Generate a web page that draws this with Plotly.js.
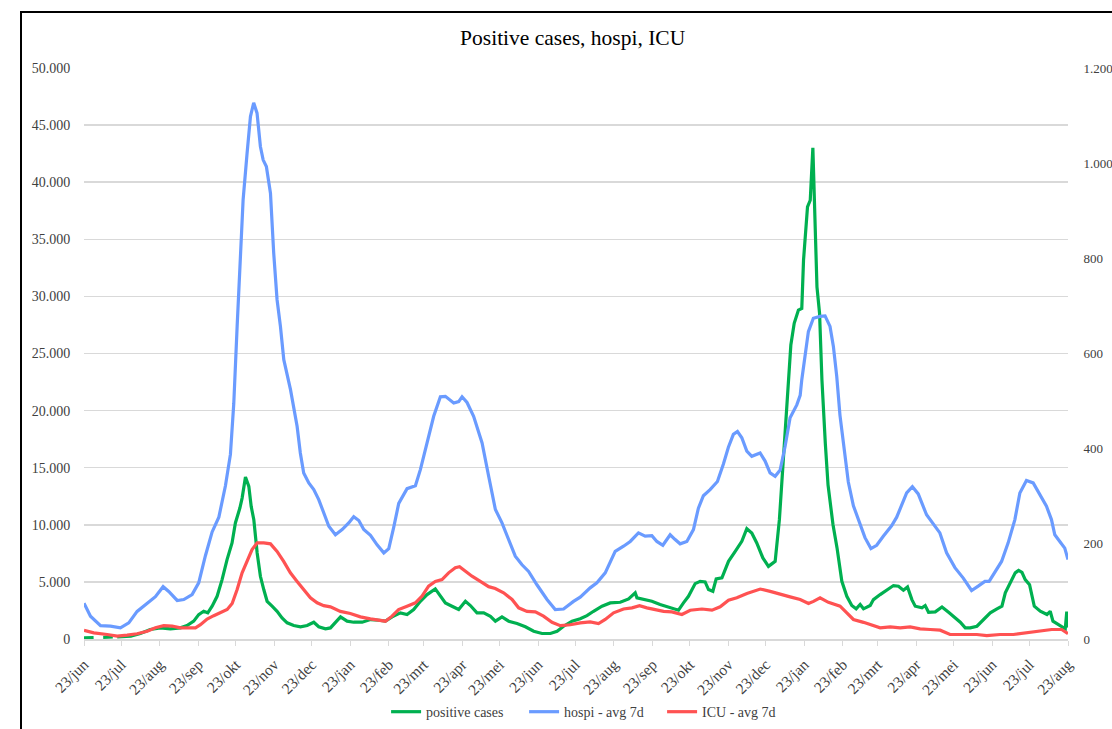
<!DOCTYPE html>
<html>
<head>
<meta charset="utf-8">
<script src="https://cdn.plot.ly/plotly-3.0.1.min.js"></script>
<style>
  html, body { margin: 0; padding: 0; background: #ffffff; }
  #chart { width: 1112px; height: 729px; position: relative; }
  #frame { position: absolute; left: 20px; top: 11px; width: 1200px; height: 800px;
           border-left: 2px solid #000; border-top: 2px solid #000; pointer-events: none; }
</style>
</head>
<body>
<div id="chart"></div>
<div id="frame"></div>
<script>
// ---- data (x = days since 2020-06-23) ----
const startDate = '2020-06-23';

const tickDates = ['2020-06-23','2020-07-23','2020-08-23','2020-09-23','2020-10-23','2020-11-23','2020-12-23',
  '2021-01-23','2021-02-23','2021-03-23','2021-04-23','2021-05-23','2021-06-23','2021-07-23','2021-08-23',
  '2021-09-23','2021-10-23','2021-11-23','2021-12-23','2022-01-23','2022-02-23','2022-03-23','2022-04-23',
  '2022-05-23','2022-06-23','2022-07-23','2022-08-23'];
const tickLabels = ['23/jun','23/jul','23/aug','23/sep','23/okt','23/nov','23/dec','23/jan','23/feb','23/mrt',
  '23/apr','23/mei','23/jun','23/jul','23/aug','23/sep','23/okt','23/nov','23/dec','23/jan','23/feb','23/mrt',
  '23/apr','23/mei','23/jun','23/jul','23/aug'];

// positive cases - first (dashed) stretch
const casesDashDays = [0, 7, 14, 21, 26.7];
const casesDash     = [90, 100, 110, 140, 190];

// positive cases (left axis)
const casesDays = [26.7,37.6,45.3,53.3,61.4,69.4,77.5,82.8,88.2,92.2,96.2,99.5,103,107,111,115,119,121.7,125.3,127.1,
  129.8,132.5,134.4,136.5,139.2,141.8,144.5,147.2,151.2,155.2,159.2,163.3,168.6,174,179.4,184.7,188.7,194.1,198.1,
  202.1,206.2,211.5,216.8,223.6,230.3,237,242.3,247.7,254.3,259.7,265,270.4,275.8,282.4,286.5,290.5,295.8,301.2,
  306.6,310.6,315.9,321.3,326.7,330.7,336,341.4,348.1,354.8,361.5,368.2,374.9,380.3,385.5,392.3,398.9,404.3,409.6,
  416.4,423,431.1,437.8,443.1,444.5,451.1,456.5,463.1,469.8,477.9,481.9,485.9,491.3,495.3,499.3,502,505.5,508.2,
  512.8,518.1,523.5,528.8,532.8,536.8,540.8,545.7,550.2,555.6,559,561.9,564.6,568.2,570.9,574.3,577,578.4,581.6,
  583.8,585.9,587.2,589.2,591.3,593.2,595.9,598.1,602.1,605.3,609.2,613.2,617.2,620.7,623.9,626.6,632,634.6,640,
  645.4,650.7,654.7,658.7,662,665.5,668.2,673.6,676.2,678.9,684.3,689.7,695,700.4,704.4,708.4,712.4,717.8,723.2,
  728.5,733.9,737.9,740.6,744.6,748.6,751.3,754,756.6,760.1,763.9,768.7,774.1,776.7,778.9,784.8,788.8,790,791];
const cases = [190,245,480,830,980,890,980,1180,1560,2140,2430,2290,2870,3740,5200,6950,8410,10160,11470,12340,
  14180,13360,11610,10450,7530,5490,4330,3300,2870,2430,1850,1420,1180,1070,1180,1470,1070,890,970,
  1470,1940,1560,1470,1470,1700,1640,1560,1940,2290,2140,2580,3300,3890,4390,3740,3160,2870,2580,
  3300,2930,2290,2290,1990,1560,1940,1560,1350,1070,680,480,480,680,1120,1560,1770,2050,2430,
  2870,3160,3220,3510,4040,3600,3450,3300,3020,2810,2520,3160,3740,4850,5050,5000,4330,4180,5260,
  5350,6800,7670,8550,9660,9280,8410,7100,6360,6800,10450,15400,20500,25740,27640,28800,28950,33170,37830,
  38420,43020,39000,30840,28510,22680,17150,13500,10000,8000,5050,3740,2930,2640,3020,2640,2930,3450,3890,
  4330,4680,4620,4270,4560,3450,2870,2730,2930,2340,2380,2810,2340,1850,1470,980,980,1120,1700,
  2290,2640,2870,4040,4910,5790,6010,5840,5200,4760,2870,2430,2140,2430,1560,1180,890,2400,1000];

// hospi - avg 7d (right axis)
const hospiDays = [0,5.2,13.3,21.3,29.3,36,42.7,50.8,57.4,63.6,68.1,74.9,80.2,86.9,92.2,97.6,103,108.4,113.7,117.7,
  120.4,123.1,125.8,127.9,131.1,133.8,136.4,139.1,141.8,144,146.6,149.9,152.5,155.2,157.9,160.6,166,168.6,171.3,
  173.9,176.6,180.7,184.7,188.7,192.7,196.8,202.1,207.5,212.8,216.8,220.9,224.9,230.3,235.6,241,245,249,253,
  259.7,266.4,270.4,275.8,281.1,286.5,290.5,297.2,301.2,303.9,307.9,313.2,320,325.3,330.7,336,341.4,346.7,352.1,
  357.4,364.1,372.2,378.8,385.5,393.5,398.9,406.9,412.3,419,423,427,433.7,439.1,445.7,451.1,456.5,460.5,465.3,
  471.2,475.2,479.2,484.6,489.9,493.9,497.9,503.3,509.2,514,518,522,525.3,528.8,532.8,536.8,543.5,547.5,551.5,
  555.6,559.6,563.6,567.6,573,575.7,577,579.6,582.3,586.3,591.7,595.7,599.7,602.4,605.1,607.7,610.4,614.4,618.5,
  623.8,627.8,632.6,637.2,642.5,649.2,653.3,657.3,661.3,665.9,670.6,677.3,682.7,688,693.4,700.1,706.8,713.5,718.8,
  724.2,727.6,732.2,737.6,742.9,748.3,752.3,757.6,763,768.3,773.7,777.7,780.4,784.4,788.4,791];
const hospi = [75,48,28,27,23.5,34,58,75,89,110,100,81,83,93.5,118,175,225,256,322,388,
  495,657,797,923,1021,1098,1127,1105,1035,1007,993,937,811,713,657,587,524,489,447,
  391,349,328,314,293,265,237,219,230,244,257,249,230,218,198,181,190,235,285,
  316,322,356,412,468,509,510,496,499,509,497,468,412,342,272,244,209,174,156,
  142,114,83,62,63,79,88,107.5,118,139,163,184,195,205,223,216,217,205,197,
  219,209,200,205,230,275,301,314,331,368,403,430,436,423,395,384,391,374,349,
  342,355,405,465,492,512,545,601,646,674,678,679,657,615,552,470,412,330,280,
  242,213,190,197,216,238,256,280,307,320,305,261,243,223,181,150,128,102,111,
  121,121,139,163,202,251,307,333,328,303,279,251,219,205,191,167];

// ICU - avg 7d (right axis)
const icuDays = [0,7.9,18.6,26.7,34.7,42.7,50.8,57.4,64.1,70.9,77.5,82.9,89.6,93.6,99,104.3,109.7,115.1,119.1,123.1,
  127.1,131.1,135.1,139.2,144.5,149.9,155.2,160.5,165.9,171.3,176.6,182,187.4,192.7,198.1,206.1,214.1,222.2,230.2,
  238.3,242.3,247.6,252.9,259.7,266.4,271.7,277,282.4,287.8,293.1,298.5,301.9,306.5,311.9,318.6,325.3,330.6,337.3,
  344.1,349.4,356.1,362.8,369.4,376.2,382.9,390.9,398.9,406.9,413.6,419,425.7,433.7,440.5,446.6,452.5,459.2,465.9,
  472.6,480.6,487.3,496.7,504.8,511.4,518.1,524.8,532.9,543.6,551.6,559.6,567.6,575.7,582.4,586.4,591.7,598.4,607.8,
  613.2,618.5,626.6,633.3,640,648.1,656.1,664.1,672.1,680.2,688.2,696.2,706.9,717.7,725.7,736.4,747.1,757.8,768.5,
  777.9,785.9,791];
const icu = [18,13,9.5,6,8,11,16.4,23.5,28,27,23.5,23.5,23.5,30,42,49,55,62,74.5,104,
  139,163,188,202,202,200,184,163,139,121,105,86.5,76,70,67.6,58,53.5,46.6,42.4,
  39.5,37.4,48,62,69,76,90,111,121,125,139,150,152,142,132,121,110,106,97,
  83,65.5,58,57,48,35,28,30,34,36,32.5,41,55,63,65.5,70,65.5,62,58,
  57,51.4,60.5,63,60.5,67.6,81.5,86.5,95.5,105,100,93.5,88.6,83,74.5,79,86.5,77,69,
  55,41,35,29,23.5,25.6,23.5,25.6,21.4,20,18.5,9.5,9.5,9.5,7.3,9.5,9.5,13,16.4,
  20,20,11.5];

// ---- helpers ----
const t0 = Date.parse(startDate + 'T00:00:00Z');
function toDate(d) {
  return new Date(t0 + d * 86400000).toISOString().replace('T', ' ').slice(0, 19);
}

const GREEN = '#00B050', BLUE = '#6A9BFF', RED = '#FF5252';
const FONT = 'Liberation Serif, Times New Roman, serif';

const traces = [
  { x: casesDays.map(toDate), y: cases, type: 'scatter', mode: 'lines', name: 'positive cases',
    line: { color: GREEN, width: 3.2 }, yaxis: 'y' },
  { x: casesDashDays.map(toDate), y: casesDash, type: 'scatter', mode: 'lines', showlegend: false,
    line: { color: GREEN, width: 3.2, dash: 'dash' }, yaxis: 'y' },
  { x: hospiDays.map(toDate), y: hospi, type: 'scatter', mode: 'lines', name: 'hospi - avg 7d',
    line: { color: BLUE, width: 3.2 }, yaxis: 'y2' },
  { x: icuDays.map(toDate), y: icu, type: 'scatter', mode: 'lines', name: 'ICU - avg 7d',
    line: { color: RED, width: 3.2 }, yaxis: 'y2' }
];

const layout = {
  width: 1112, height: 729, autosize: false,
  paper_bgcolor: '#ffffff', plot_bgcolor: '#ffffff',
  separators: ',.',
  font: { family: FONT, size: 14, color: '#404040' },
  margin: { l: 83.5, r: 44, t: 68, b: 89.5, pad: 0, autoexpand: false },
  title: { text: 'Positive cases, hospi, ICU', x: 0.515, xanchor: 'center', y: 0.948, yanchor: 'middle',
           font: { family: FONT, size: 21.5, color: '#000000' } },
  showlegend: true,
  legend: { orientation: 'h', x: 0.307, xanchor: 'left', y: -0.128, yanchor: 'middle',
            entrywidth: 93, entrywidthmode: 'pixels',
            font: { family: FONT, size: 14, color: '#404040' }, bgcolor: 'rgba(0,0,0,0)' },
  xaxis: {
    type: 'date',
    range: [toDate(0), toDate(791)],
    tickmode: 'array', tickvals: tickDates, ticktext: tickLabels,
    tickangle: -45, ticks: 'outside', ticklen: 5, tickcolor: '#d9d9d9',
    ticklabelstandoff: 4,
    showgrid: false, showline: true, linecolor: '#d9d9d9', linewidth: 1.5,
    zeroline: false, fixedrange: true,
    tickfont: { family: FONT, size: 15.5, color: '#404040' }
  },
  yaxis: {
    range: [0, 50000], dtick: 5000, tick0: 0, tickformat: ',d',
    showgrid: true, gridcolor: '#d9d9d9', gridwidth: 1.5, zeroline: false, showline: false,
    ticks: 'outside', ticklen: 10, tickcolor: 'rgba(0,0,0,0)',
    tickfont: { family: FONT, size: 14, color: '#404040' }
  },
  yaxis2: {
    overlaying: 'y', side: 'right', range: [0, 1200], dtick: 200, tick0: 0, tickformat: ',d',
    showgrid: false, zeroline: false, showline: false,
    ticks: 'outside', ticklen: 12, tickcolor: 'rgba(0,0,0,0)',
    tickfont: { family: FONT, size: 13, color: '#404040' }
  }
};

Plotly.newPlot('chart', traces, layout, { displayModeBar: false, staticPlot: true });
</script>
</body>
</html>
